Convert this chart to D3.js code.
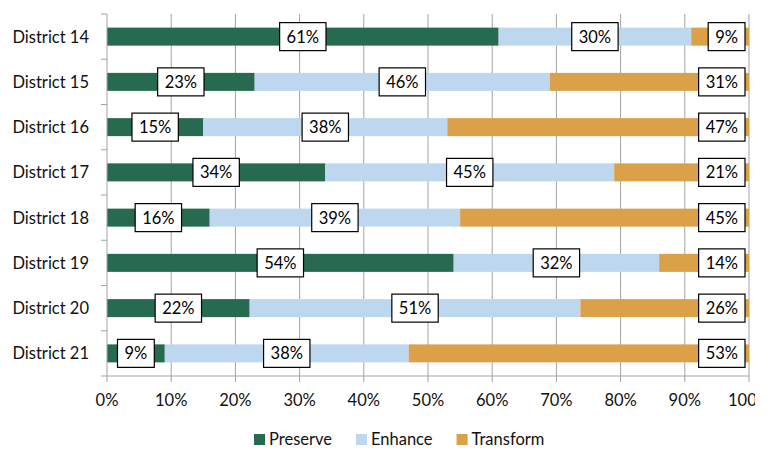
<!DOCTYPE html>
<html>
<head>
<meta charset="utf-8">
<script src="https://cdn.jsdelivr.net/npm/d3@7/dist/d3.min.js"></script>
<style>
  html, body { margin: 0; padding: 0; background: #fff; }
  svg { display: block; font-family: Lato, "Open Sans", sans-serif; }
</style>
</head>
<body>
<svg id="chart" width="773" height="450"></svg>
<script>
// Share of each district by strategy (percent, as labelled)
const districts = ["District 14", "District 15", "District 16", "District 17",
                   "District 18", "District 19", "District 20", "District 21"];
const preserve  = [61, 23, 15, 34, 16, 54, 22, 9];
const enhance   = [30, 46, 38, 45, 39, 32, 51, 38];
const transform = [9, 31, 47, 21, 45, 14, 26, 53];
const seriesNames = ["Preserve", "Enhance", "Transform"];
const seriesColors = ["#276a4f", "#bdd7ee", "#dba149"];
const xTicks = [0, 0.1, 0.2, 0.3, 0.4, 0.5, 0.6, 0.7, 0.8, 0.9, 1.0];

const rows = districts.map((d, i) => ({
  district: d, Preserve: preserve[i], Enhance: enhance[i], Transform: transform[i]
}));

const svg = d3.select("#chart");
const W = 773, H = 450;
const plot = { left: 107, right: 749, top: 14, bottom: 376 };
const fontSize = 16.5;
const textColor = "#111";

// The chart frame cuts off just past the right end of the axis
svg.append("clipPath").attr("id", "frame")
  .append("rect").attr("x", 0).attr("y", 0).attr("width", 755).attr("height", H);
const root = svg.append("g").attr("clip-path", "url(#frame)");

const x = d3.scaleLinear().domain([0, 1]).range([plot.left, plot.right]);
const y = d3.scaleBand().domain(districts)
  .range([plot.top, plot.bottom]).paddingInner(0.602).paddingOuter(0.301);

const stack = d3.stack().keys(seriesNames).offset(d3.stackOffsetExpand);
const layers = stack(rows);

const gridColor = "#a3a3a3";

// Vertical gridlines
root.append("g").selectAll("line").data(xTicks.slice(1)).join("line")
  .attr("x1", d => x(d)).attr("x2", d => x(d))
  .attr("y1", plot.top).attr("y2", plot.bottom)
  .attr("stroke", gridColor).attr("stroke-width", 1);

// Stacked bars
const layerG = root.append("g").selectAll("g").data(layers).join("g")
  .attr("fill", (d, i) => seriesColors[i]);
layerG.selectAll("rect").data(d => d).join("rect")
  .attr("x", d => x(d[0]))
  .attr("width", d => x(d[1]) - x(d[0]))
  .attr("y", d => y(d.data.district))
  .attr("height", y.bandwidth());

// Y axis line and category separators
const axisG = root.append("g").attr("stroke", gridColor).attr("stroke-width", 1);
axisG.append("line")
  .attr("x1", plot.left).attr("x2", plot.left)
  .attr("y1", plot.top).attr("y2", plot.bottom);
const bounds = d3.range(districts.length + 1).map(i => plot.top + i * y.step());
axisG.selectAll(".ytick").data(bounds).join("line").attr("class", "ytick")
  .attr("x1", plot.left - 6).attr("x2", plot.left)
  .attr("y1", d => d).attr("y2", d => d);

// X axis line and ticks
axisG.append("line")
  .attr("x1", plot.left).attr("x2", plot.right)
  .attr("y1", plot.bottom).attr("y2", plot.bottom);
axisG.selectAll(".xtick").data(xTicks).join("line").attr("class", "xtick")
  .attr("x1", d => x(d)).attr("x2", d => x(d))
  .attr("y1", plot.bottom).attr("y2", plot.bottom + 6);

// X tick labels
root.append("g").selectAll("text").data(xTicks).join("text")
  .attr("x", d => x(d)).attr("y", 406)
  .attr("text-anchor", "middle")
  .attr("font-size", fontSize).attr("fill", textColor)
  .text(d => d3.format(".0%")(d));

// Category labels
root.append("g").selectAll("text").data(districts).join("text")
  .attr("x", 89).attr("y", d => y(d) + y.bandwidth() / 2 + 6)
  .attr("text-anchor", "end")
  .attr("font-size", fontSize).attr("fill", textColor)
  .text(d => d);

// Boxed value labels: centred on the segment, last series at the inside end
const labelG = root.append("g");
layers.forEach((layer, li) => {
  layer.forEach(seg => {
    const value = seg.data[layer.key];
    const g = labelG.append("g");
    const t = g.append("text")
      .attr("font-size", fontSize).attr("fill", "#000")
      .attr("text-anchor", "middle")
      .text(value + "%");
    const tw = t.node().getComputedTextLength();
    const bw = tw + 14, bh = 28;
    const cy = y(seg.data.district) + y.bandwidth() / 2;
    const cx = li === layers.length - 1
      ? x(seg[1]) - 4 - bw / 2
      : (x(seg[0]) + x(seg[1])) / 2;
    g.insert("rect", "text")
      .attr("x", cx - bw / 2).attr("y", cy - bh / 2)
      .attr("width", bw).attr("height", bh)
      .attr("fill", "#fff").attr("stroke", "#000").attr("stroke-width", 1.2);
    t.attr("x", cx).attr("y", cy + 6);
  });
});

// Legend
const legend = root.append("g").attr("transform", "translate(254,0)");
let lx = 0;
seriesNames.forEach((name, i) => {
  const g = legend.append("g").attr("transform", `translate(${lx},0)`);
  g.append("rect").attr("x", 0).attr("y", 434).attr("width", 11).attr("height", 11)
    .attr("fill", seriesColors[i]);
  const t = g.append("text").attr("x", 15).attr("y", 445)
    .attr("font-size", fontSize).attr("fill", textColor).text(name);
  lx += 15 + t.node().getComputedTextLength() + 24;
});
</script>
</body>
</html>
